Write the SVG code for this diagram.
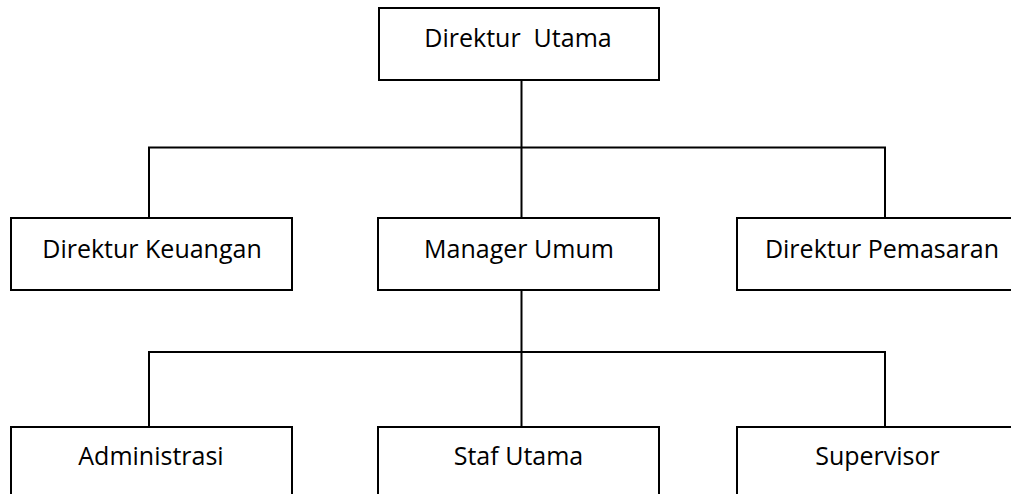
<svg xmlns="http://www.w3.org/2000/svg" width="1011" height="494" viewBox="0 0 1011 494">
<style>
.box{fill:#fff;stroke:#000;stroke-width:2}
.lbl{font-family:"Open Sans","Noto Sans",sans-serif;font-size:25px;fill:#000;text-anchor:middle;white-space:pre}
.con{fill:none;stroke:#000;stroke-width:2}
</style>
<rect width="1011" height="494" fill="#fff"/>
<g id="connectors">
<path class="con" d="M521.5 80V218M149 218V147.5H885V218"/>
<path class="con" d="M521.5 290V427M149 427V352H885V427"/>
</g>
<g id="direktur-utama"><rect class="box" x="379" y="8" width="280" height="72"/><text class="lbl" x="518" y="47" xml:space="preserve">Direktur  Utama</text></g>
<g id="direktur-keuangan"><rect class="box" x="11" y="218" width="281" height="72"/><text class="lbl" x="152" y="258">Direktur Keuangan</text></g>
<g id="manager-umum"><rect class="box" x="378" y="218" width="281" height="72"/><text class="lbl" x="519" y="258">Manager Umum</text></g>
<g id="direktur-pemasaran"><rect class="box" x="737" y="218" width="281" height="72"/><text class="lbl" x="882" y="258">Direktur Pemasaran</text></g>
<g id="administrasi"><rect class="box" x="11" y="427" width="281" height="72"/><text class="lbl" x="151" y="465">Administrasi</text></g>
<g id="staf-utama"><rect class="box" x="378" y="427" width="281" height="72"/><text class="lbl" x="518.5" y="465">Staf Utama</text></g>
<g id="supervisor"><rect class="box" x="737" y="427" width="281" height="72"/><text class="lbl" x="877.5" y="465">Supervisor</text></g>
</svg>
